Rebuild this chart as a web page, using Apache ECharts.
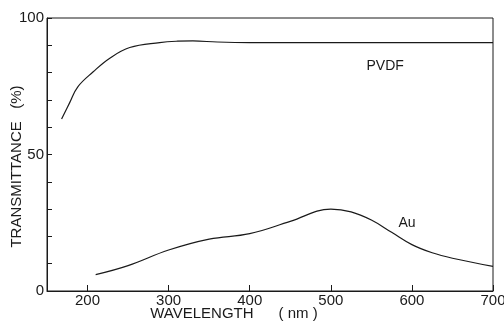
<!DOCTYPE html>
<html>
<head>
<meta charset="utf-8">
<script src="https://cdn.jsdelivr.net/npm/echarts@6/dist/echarts.min.js"></script>
<style>
  html, body { margin: 0; padding: 0; background: #fff; }
  #chart { width: 504px; height: 322px; }
</style>
</head>
<body>
<div id="chart"></div>
<script>
// transmittance spectra
const pvdfWavelength = [168, 178, 188, 207, 227, 252, 289, 311, 330, 360, 400, 500, 600, 700]
const pvdfT = [63, 69, 74.8, 80.3, 85.2, 89.2, 91, 91.5, 91.6, 91.2, 91, 91, 91, 91]

const auWavelength = [210, 250, 300, 350, 400, 450, 500, 525, 550, 575, 600, 625, 650, 700]
const auT = [6, 9.3, 15, 19, 21, 25.5, 30, 29, 26, 21.5, 17, 14, 12, 9]

const xTicks = [200, 300, 400, 500, 600, 700]
const yLabels = [0, 50, 100]

const font = 'Liberation Sans'
const ink = '#1a1a1a'

const pairs = (xs, ys) => xs.map((x, i) => [x, ys[i]])

const curve = (name, xs, ys, labelAt) => ({
  name,
  type: 'line',
  smooth: 0.4,
  symbol: 'none',
  lineStyle: { color: ink, width: 1.2 },
  data: pairs(xs, ys),
  markPoint: {
    symbol: 'circle',
    symbolSize: 0,
    label: {
      show: true,
      formatter: name,
      color: ink,
      fontFamily: font,
      fontSize: 14,
      position: 'inside'
    },
    data: [{ coord: labelAt }]
  }
})

const myChart = echarts.init(document.getElementById('chart'))
myChart.setOption({
  animation: false,
  grid: {
    left: 47, right: 11, top: 18, bottom: 31,
    outerBoundsMode: 'none',
    containLabel: false,
    show: true, borderColor: ink, borderWidth: 1
  },
  xAxis: {
    type: 'value',
    min: 150,
    max: 700,
    name: 'WAVELENGTH      ( nm )',
    nameLocation: 'middle',
    nameGap: 15,
    nameMoveOverlap: false,
    nameTextStyle: { color: ink, fontFamily: font, fontSize: 15, padding: [0, 72, 0, 0] },
    splitLine: { show: false },
    axisLine: { lineStyle: { color: ink, width: 1 } },
    axisTick: { inside: true, length: 6, customValues: xTicks, lineStyle: { color: ink } },
    axisLabel: { customValues: xTicks, color: ink, fontFamily: font, fontSize: 15, margin: 2 }
  },
  yAxis: {
    type: 'value',
    min: 0,
    max: 100,
    interval: 10,
    name: 'TRANSMITTANCE   (%)',
    nameLocation: 'middle',
    nameGap: 23,
    nameMoveOverlap: false,
    nameRotate: 90,
    nameTextStyle: { color: ink, fontFamily: font, fontSize: 15, padding: [0, 24, 0, 0] },
    splitLine: { show: false },
    axisLine: { lineStyle: { color: ink, width: 1 } },
    axisTick: { inside: true, length: 5, lineStyle: { color: ink } },
    axisLabel: { customValues: yLabels, color: ink, fontFamily: font, fontSize: 15, margin: 3 }
  },
  series: [
    curve('PVDF', pvdfWavelength, pvdfT, [567, 82.5]),
    curve('Au', auWavelength, auT, [594, 25])
  ]
})
</script>
</body>
</html>
